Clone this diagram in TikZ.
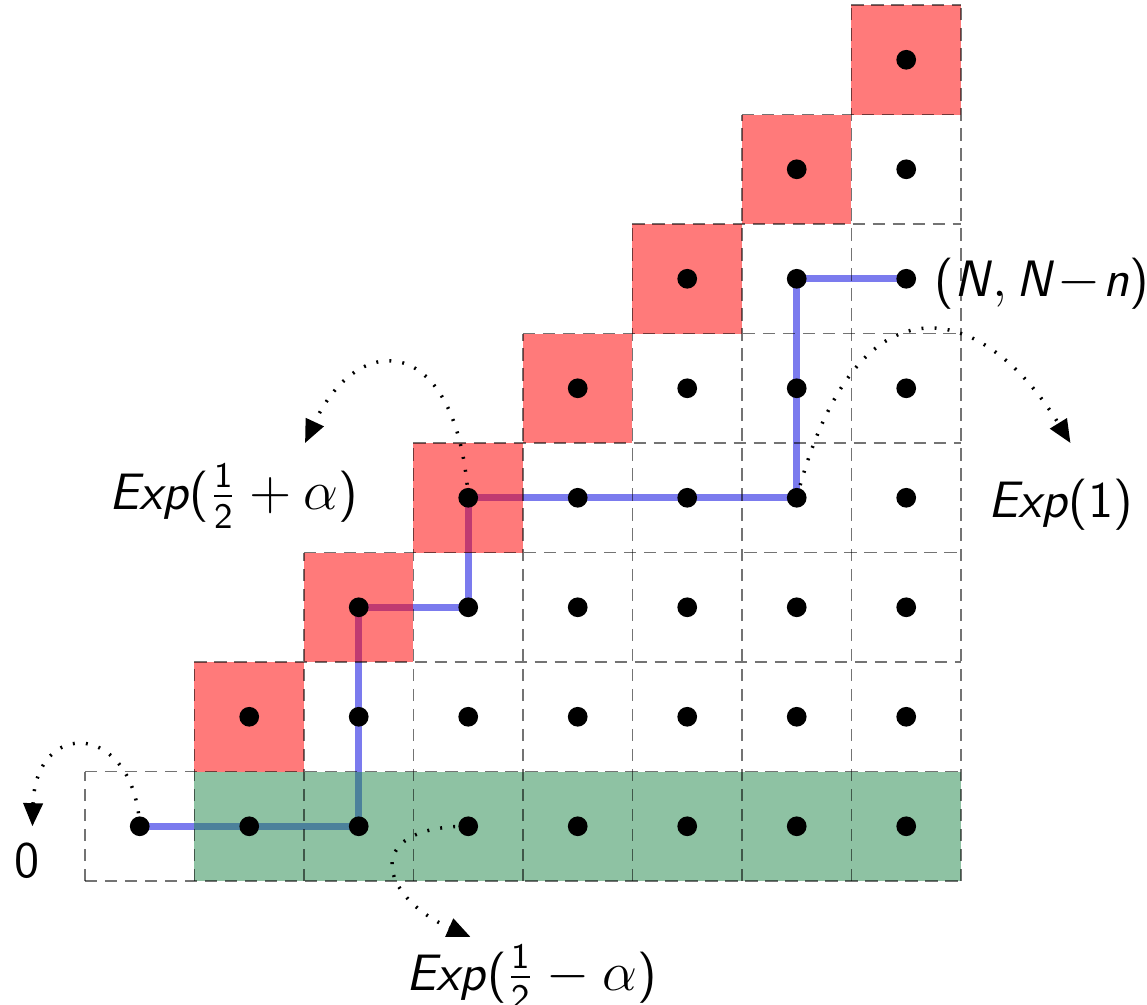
\documentclass[tikz,border=0pt]{standalone}
\usepackage{amsmath}
\usetikzlibrary{arrows.meta}
\definecolor{cellred}{RGB}{255,0,0}
\definecolor{cellgreen}{RGB}{31,135,73}
\definecolor{pathblue}{RGB}{123,123,238}
\tikzset{
 dot/.style={circle,fill=black,inner sep=0pt,minimum size=0.18cm},
 redcell/.style={fill=cellred,fill opacity=0.52},
 greencell/.style={fill=cellgreen,fill opacity=0.5},
 gridline/.style={draw=black,draw opacity=0.55,line width=0.4pt,dash pattern=on 3.2pt off 2pt},
 walk/.style={draw=pathblue,line width=1.8pt},
 rate/.style={draw=black,line width=0.9pt,dash pattern=on 0.5pt off 2.9pt,-{Triangle[length=6pt,width=5pt,fill=black]}},
 lbl/.style={font=\fontsize{13.3}{15}\selectfont,inner sep=0pt}
}
\begin{document}
\begin{tikzpicture}
\useasboundingbox (-0.776,-1.132) rectangle (9.699,8.046);
\fill[white] (-0.776,-1.132) rectangle (9.699,8.046);
% cell centre coordinates
\foreach \i in {0,...,7}{\foreach \j in {0,...,\i}{\coordinate (c\i\j) at (\i+0.5,\j+0.5);}}
% lattice path
\draw[walk] (c00) -- (c20) -- (c22) -- (c32) -- (c33) -- (c63) -- (c65) -- (c75);
% coloured cells
\foreach \i in {1,...,7}{
  \fill[greencell] (\i,0) rectangle ++(1,1);
  \fill[redcell] (\i,\i) rectangle ++(1,1);
}
% dashed grid
\foreach \k in {0,...,8}{\pgfmathtruncatemacro\s{max(0,\k-1)}\draw[gridline] (\s,\k) -- (8,\k);}
\foreach \m in {0,...,8}{\pgfmathtruncatemacro\t{min(\m+1,8)}\draw[gridline] (\m,0) -- (\m,\t);}
% dots
\foreach \i in {0,...,7}{\foreach \j in {0,...,\i}{\node[dot] (d\i\j) at (c\i\j) {};}}
% labels
\node[lbl,anchor=base] (lplus) at (1.36,3.39) {$\textsf{\textit{Exp}}\textsf{(}\frac{\textsf{1}}{\textsf{2}}+\alpha\textsf{)}$};
\node[lbl,anchor=base] (lone) at (8.91,3.32) {$\textsf{\textit{Exp}}\textsf{(1)}$};
\node[lbl,anchor=base] (lend) at (8.74,5.34) {$\textsf{(}\textsf{\textit{N}},\textsf{\textit{N}}\mkern1mu{-}\mkern1mu\textsf{\textit{n}}\textsf{)}$};
\node[lbl,anchor=base] (lminus) at (4.08,-1.0) {$\textsf{\textit{Exp}}\textsf{(}\frac{\textsf{1}}{\textsf{2}}-\alpha\textsf{)}$};
\node[lbl,anchor=base] (lzero) at (-0.53,0.03) {\textsf{0}};
% arrow ends
\coordinate (a1) at (2.01,4.0);
\coordinate (a2) at (9.0,4.0);
\coordinate (a3) at (-0.48,0.5);
\coordinate (a4) at (3.52,-0.51);
\draw[rate] (d33.center) .. controls (3.4,5.0) and (2.5,5.05) .. (a1);
\draw[rate] (d63.center) .. controls (7.05,5.6) and (8.2,5.3) .. (a2);
\draw[rate] (d00.center) .. controls (0.45,1.45) and (-0.45,1.5) .. (a3);
\draw[rate] (d30.center) .. controls (2.5,0.5) and (2.7,-0.15) .. (a4);
\end{tikzpicture}
\end{document}
